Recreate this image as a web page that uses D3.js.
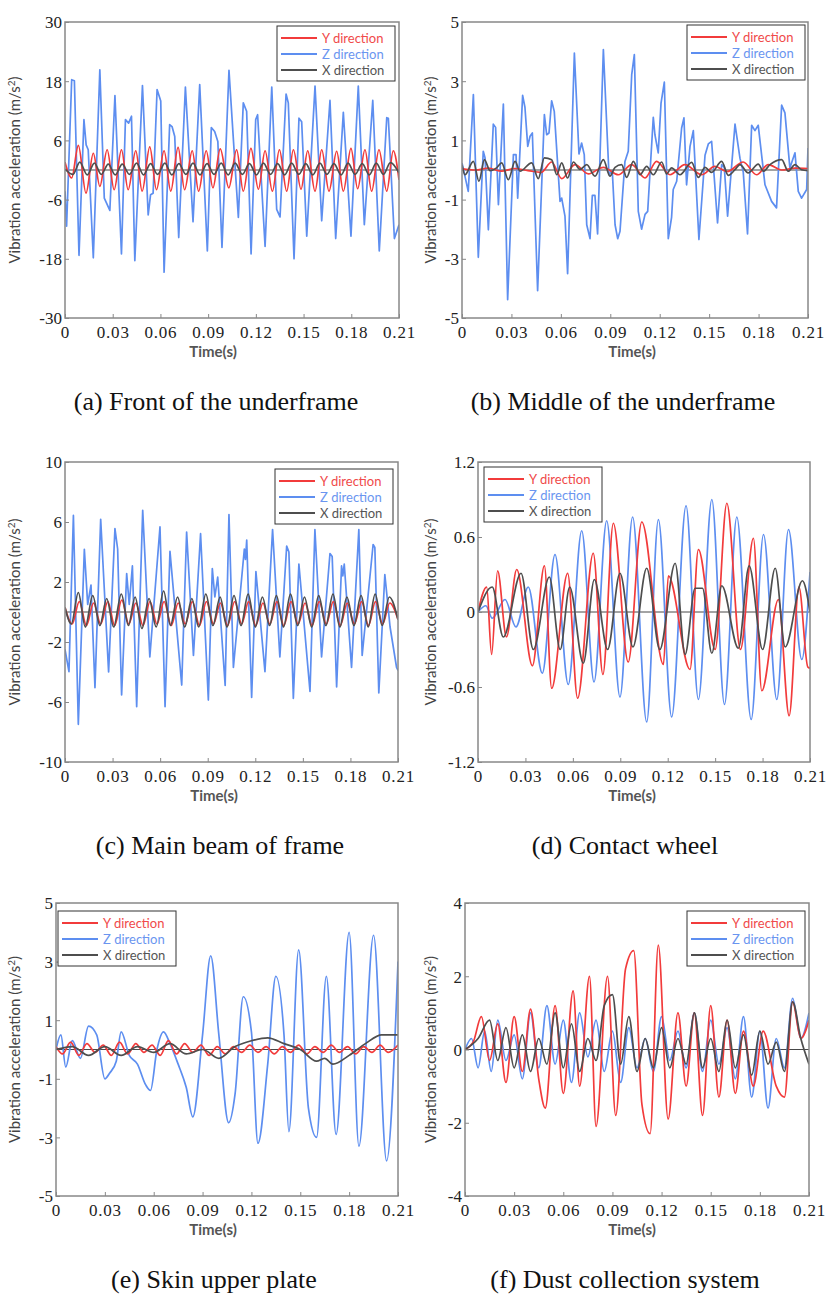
<!DOCTYPE html>
<html>
<head>
<meta charset="utf-8">
<script src="https://cdnjs.cloudflare.com/ajax/libs/d3/7.8.5/d3.min.js"></script>
<style>body{margin:0;background:#fff}</style>
</head>
<body>
<div id="chart"></div>
<script>
// time ticks shared by every panel
var timeTicks = [0, 0.03, 0.06, 0.09, 0.12, 0.15, 0.18, 0.21];
var seriesNames = ["Y direction", "Z direction", "X direction"];

// (a) Front of the underframe, [t, value]
var aTicks = [30, 18, 6, -6, -18, -30];
var aZ = [[0,-4.3],[0.001,-11.4],[0.0042,18.3],[0.0059,18.1],[0.0088,-17.3],[0.0119,10.2],[0.0133,5.1],[0.0146,4.1],[0.0178,-17.8],[0.0219,20.3],[0.0247,-5.7],[0.0282,-8.2],[0.0314,15.1],[0.0355,-17.0],[0.038,10.2],[0.040,9.5],[0.0418,10.9],[0.0439,-18.4],[0.0487,17.1],[0.0523,-9.1],[0.0538,-5.0],[0.0554,-4.7],[0.0579,16.3],[0.0602,14.0],[0.0623,-20.7],[0.0658,9.2],[0.0673,8.8],[0.069,6.8],[0.0715,-13.7],[0.0757,16.8],[0.0805,-10.5],[0.0847,17.3],[0.0895,-16.4],[0.092,8.6],[0.0941,7.8],[0.0961,5.8],[0.0987,-15.7],[0.1031,20.2],[0.109,-9.6],[0.1121,13.6],[0.1142,11.9],[0.117,-17.0],[0.1199,10.2],[0.1211,11.2],[0.1258,-15.5],[0.13,16.8],[0.1331,-8.0],[0.1352,-9.5],[0.139,15.4],[0.1404,13.6],[0.144,-18.0],[0.1471,10.5],[0.1488,9.8],[0.152,-13.4],[0.1572,17.0],[0.1614,-10.3],[0.1666,14.1],[0.1702,-13.9],[0.175,11.7],[0.1798,-13.4],[0.1844,17.0],[0.1882,-11.1],[0.1935,14.1],[0.1976,-16.4],[0.2023,10.6],[0.2033,10.5],[0.2071,-13.9],[0.21,-11.1]];
var aY = [[0,1.6],[0.0042,-1.6],[0.0084,5.0],[0.0132,-4.7],[0.0178,3.4],[0.0219,-3.3],[0.0265,4.1],[0.0309,-4.0],[0.0355,4.1],[0.0397,-4.0],[0.0445,3.9],[0.0485,-4.3],[0.0533,4.7],[0.0575,-4.0],[0.0623,3.9],[0.0665,-4.3],[0.0711,4.6],[0.0752,-4.0],[0.08,3.9],[0.084,-4.3],[0.0888,3.9],[0.093,-3.6],[0.0976,4.3],[0.1030,-3.6],[0.1079,4.1],[0.1121,-4.3],[0.1169,4.4],[0.1216,-3.9],[0.1258,3.9],[0.1304,-4.3],[0.1348,4.1],[0.1394,-4.3],[0.1436,4.1],[0.1484,-3.9],[0.1526,3.9],[0.1572,-4.3],[0.1614,4.1],[0.166,-4.3],[0.1708,3.8],[0.175,-4.3],[0.1798,4.4],[0.184,-3.8],[0.1886,4.1],[0.1928,-4.3],[0.1974,4.1],[0.2023,-4.3],[0.2064,3.9],[0.21,-2.0]];
var aX = [[0,0.2],[0.005,-0.9],[0.0093,1.6],[0.014,-1.0],[0.0185,1.4],[0.0228,-0.9],[0.0272,1.2],[0.0316,-1.0],[0.036,1.2],[0.0405,-0.9],[0.045,1.4],[0.0494,-1.0],[0.0538,1.3],[0.0582,-0.9],[0.0628,1.4],[0.0672,-1.0],[0.0716,1.3],[0.076,-0.9],[0.0805,1.4],[0.0849,-1.0],[0.0893,1.3],[0.0937,-0.9],[0.0982,1.4],[0.1026,-1.0],[0.107,1.4],[0.1115,-0.9],[0.116,1.3],[0.1204,-1.0],[0.1248,1.4],[0.1292,-0.9],[0.1337,1.3],[0.1381,-1.0],[0.1425,1.4],[0.147,-0.9],[0.1514,1.3],[0.1558,-1.0],[0.1603,1.4],[0.1647,-0.9],[0.1691,1.3],[0.1736,-1.0],[0.178,1.4],[0.1824,-0.9],[0.1869,1.3],[0.1913,-1.0],[0.1957,1.4],[0.2002,-0.9],[0.2046,1.5],[0.21,-0.6]];

// (b) Middle of the underframe
var bTicks = [5, 3, 1, -1, -3, -5];
var bZ = [[0,0.24],[0.0038,-0.72],[0.0069,2.55],[0.0099,-2.95],[0.0129,0.63],[0.014,0.41],[0.016,-2.02],[0.019,1.55],[0.0204,1.44],[0.0221,-1.17],[0.0251,2.23],[0.0277,-4.38],[0.0312,0.52],[0.0328,0.52],[0.0338,-0.95],[0.0368,2.52],[0.0382,2.12],[0.0399,0.8],[0.0413,1.14],[0.0427,1.25],[0.0459,-4.08],[0.05,1.87],[0.0514,1.19],[0.0528,1.25],[0.0544,2.34],[0.056,1.98],[0.0595,-1.06],[0.0605,-0.95],[0.0625,-1.56],[0.0641,-3.5],[0.0682,3.95],[0.071,0.54],[0.0726,0.91],[0.0742,0.52],[0.0757,-1.85],[0.0777,-2.32],[0.0791,-0.86],[0.0807,-0.86],[0.0823,-2.16],[0.0858,4.07],[0.0892,-0.16],[0.0912,-0.02],[0.0929,-1.85],[0.0945,-2.32],[0.0959,-2.07],[0.0989,0.29],[0.1009,0.63],[0.103,3.22],[0.1046,3.9],[0.107,-1.4],[0.109,-2.0],[0.1111,-1.5],[0.1127,-1.4],[0.1161,1.78],[0.1171,1.19],[0.1191,0.58],[0.1208,2.26],[0.1228,2.97],[0.1252,-2.32],[0.1272,-1.6],[0.1282,-0.66],[0.1303,-0.38],[0.1333,1.42],[0.1347,1.76],[0.1363,-0.5],[0.1384,0.8],[0.1404,1.33],[0.1438,-2.35],[0.1475,0.5],[0.1495,0.88],[0.1515,0.97],[0.1551,-1.79],[0.1576,0.18],[0.1592,0.09],[0.1612,-1.56],[0.1657,1.55],[0.1687,0.4],[0.1707,-0.07],[0.1733,-2.16],[0.1758,1.51],[0.1778,1.33],[0.1798,1.51],[0.1839,-0.5],[0.1879,-1.06],[0.1909,-1.28],[0.194,2.19],[0.196,1.93],[0.199,0.07],[0.2021,0.58],[0.2041,-0.72],[0.2061,-0.95],[0.2092,-0.66],[0.21,0.74]];
var bY = [[0,0.05],[0.008,0.0],[0.016,0.06],[0.024,-0.04],[0.032,0.05],[0.04,-0.02],[0.048,-0.08],[0.0544,0.27],[0.0605,-0.29],[0.0686,0.18],[0.0767,-0.13],[0.0858,0.09],[0.0949,-0.16],[0.103,0.18],[0.1111,-0.27],[0.1181,0.29],[0.1262,-0.16],[0.1353,0.18],[0.1454,-0.16],[0.1535,0.12],[0.161,-0.05],[0.1707,0.27],[0.1788,-0.16],[0.1859,0.18],[0.194,0.0],[0.202,0.06],[0.21,0.05]];
var bX = [[0,0.18],[0.0018,-0.16],[0.0069,0.29],[0.0103,-0.38],[0.0136,0.35],[0.017,-0.02],[0.021,0.07],[0.0241,0.24],[0.0281,-0.33],[0.0322,0.29],[0.0352,-0.04],[0.0423,0.24],[0.0463,-0.29],[0.05,0.41],[0.0544,0.35],[0.0575,-0.16],[0.0605,0.24],[0.0641,-0.27],[0.0676,0.27],[0.0716,0.02],[0.0757,0.18],[0.0807,-0.21],[0.0858,0.35],[0.0898,-0.21],[0.0929,0.09],[0.0969,0.18],[0.0999,-0.25],[0.104,0.29],[0.108,-0.16],[0.1121,0.12],[0.1161,-0.16],[0.1212,0.27],[0.1242,-0.13],[0.1272,0.07],[0.1323,-0.16],[0.1394,0.26],[0.1434,-0.25],[0.1475,0.09],[0.1515,-0.08],[0.1576,0.29],[0.1616,-0.18],[0.1657,0.01],[0.1687,0.18],[0.1737,-0.1],[0.1798,0.2],[0.1829,-0.04],[0.1869,0.18],[0.194,0.35],[0.198,-0.04],[0.2021,0.18],[0.2061,0.01],[0.21,-0.02]];

// (c) Main beam of frame
var cTicks = [10, 6, 2, -2, -6, -10];
var cZ = [[0,-2.5],[0.0025,-3.98],[0.0053,6.44],[0.0084,-7.49],[0.0122,4.18],[0.0143,0.5],[0.0164,1.8],[0.0189,-5.04],[0.0225,6.18],[0.0275,-4.0],[0.0315,5.56],[0.0332,4.2],[0.0357,-5.53],[0.0389,2.56],[0.0405,0.5],[0.0425,3.07],[0.0452,-6.31],[0.049,6.78],[0.0535,-3.0],[0.0599,5.67],[0.0631,-6.31],[0.0662,4.04],[0.0736,-4.87],[0.0767,5.33],[0.081,-2.9],[0.0855,5.22],[0.0904,-5.87],[0.0929,2.89],[0.0945,1.0],[0.0963,2.33],[0.101,-4.9],[0.1034,6.5],[0.1062,-3.7],[0.1131,4.2],[0.1138,3.5],[0.1146,4.8],[0.1177,-5.7],[0.1204,2.7],[0.1261,-3.98],[0.1309,5.5],[0.1355,-3.0],[0.1398,4.4],[0.1412,4.0],[0.144,-5.76],[0.1475,3.2],[0.1545,-5.3],[0.1576,5.5],[0.1618,-3.0],[0.1671,3.9],[0.1685,3.7],[0.1713,-5.0],[0.1744,3.07],[0.1752,2.4],[0.1761,3.2],[0.1807,-3.7],[0.1853,5.5],[0.1874,-2.9],[0.1943,4.5],[0.1954,4.3],[0.1979,-5.4],[0.2017,2.5],[0.205,-1.0],[0.2091,-3.7],[0.21,-3.9]];
var cY = [[0,0.3],[0.0045,-0.8],[0.009,0.7],[0.0135,-0.9],[0.018,0.6],[0.0225,-0.8],[0.027,0.7],[0.0313,-0.9],[0.0358,0.8],[0.0402,-0.8],[0.0447,0.6],[0.0492,-0.9],[0.0536,0.7],[0.058,-0.8],[0.0625,0.7],[0.067,-0.9],[0.0714,0.6],[0.0758,-0.8],[0.0803,0.7],[0.0848,-0.9],[0.0892,0.7],[0.0936,-0.8],[0.098,0.6],[0.1025,-0.9],[0.107,0.7],[0.1114,-0.8],[0.1158,0.7],[0.1203,-0.9],[0.1248,0.6],[0.1292,-0.8],[0.1336,0.7],[0.138,-0.9],[0.1425,0.7],[0.147,-0.8],[0.1514,0.6],[0.1558,-0.9],[0.1603,0.7],[0.1648,-0.8],[0.1692,0.7],[0.1736,-0.9],[0.178,0.6],[0.1825,-0.8],[0.187,0.7],[0.1914,-0.9],[0.1958,0.7],[0.2003,-0.8],[0.2048,0.6],[0.21,-0.5]];
var cX = [[0,0.3],[0.004,-0.8],[0.0084,1.3],[0.0128,-1.0],[0.0175,1.1],[0.022,-0.9],[0.0263,0.9],[0.0307,-1.0],[0.0355,1.2],[0.04,-0.9],[0.0442,1.0],[0.0485,-1.1],[0.053,0.9],[0.0575,-1.0],[0.0622,1.4],[0.0665,-0.9],[0.071,1.0],[0.0755,-1.0],[0.08,0.9],[0.0843,-1.0],[0.0888,1.2],[0.0933,-0.9],[0.0978,1.0],[0.1022,-1.0],[0.1066,1.1],[0.111,-0.9],[0.1155,1.2],[0.12,-1.0],[0.1245,1.0],[0.129,-0.9],[0.1333,1.1],[0.1378,-1.0],[0.1422,1.2],[0.1467,-0.9],[0.151,1.0],[0.1556,-1.0],[0.16,1.1],[0.1645,-0.9],[0.169,1.2],[0.1733,-1.0],[0.1778,1.0],[0.1822,-0.9],[0.1867,1.1],[0.1912,-1.0],[0.1956,1.2],[0.2,-0.9],[0.2045,1.0],[0.21,-0.5]];

// (d) Contact wheel
var dTicks = [1.2, 0.6, 0, -0.6, -1.2];
var dZ = [[0,0],[0.005,0.05],[0.009,-0.05],[0.0171,0.1],[0.024,-0.12],[0.0318,0.2],[0.0407,-0.49],[0.0487,0.46],[0.0571,-0.58],[0.0656,0.65],[0.0734,-0.56],[0.0814,0.73],[0.0898,-0.68],[0.0978,0.76],[0.1067,-0.88],[0.1141,0.74],[0.1225,-0.84],[0.1316,0.85],[0.1394,-0.70],[0.1479,0.90],[0.1559,-0.74],[0.1637,0.76],[0.1728,-0.86],[0.1806,0.62],[0.189,-0.70],[0.1964,0.66],[0.2048,-0.38],[0.21,0.32]];
var dY = [[0,0],[0.0055,0.2],[0.0086,-0.34],[0.0124,0.33],[0.018,-0.2],[0.0245,0.34],[0.0344,-0.43],[0.042,0.37],[0.0466,-0.61],[0.0567,0.31],[0.063,-0.69],[0.0729,0.47],[0.079,-0.5],[0.0856,0.71],[0.095,-0.4],[0.1036,0.72],[0.1173,-0.42],[0.1204,0.29],[0.1341,-0.46],[0.1394,0.5],[0.15,-0.3],[0.1574,0.87],[0.166,-0.3],[0.1742,0.59],[0.1795,-0.63],[0.19,0.1],[0.1968,-0.83],[0.203,0.2],[0.2086,-0.44],[0.21,-0.45]];
var dX = [[0,0],[0.009,0.2],[0.016,-0.2],[0.0272,0.31],[0.035,-0.3],[0.0451,0.28],[0.052,-0.3],[0.058,0.2],[0.0666,-0.41],[0.0736,0.26],[0.082,-0.3],[0.0898,0.31],[0.098,-0.28],[0.1067,0.35],[0.115,-0.3],[0.1247,0.39],[0.131,-0.34],[0.1373,0.19],[0.142,0.19],[0.1479,-0.33],[0.1542,0.21],[0.1647,-0.29],[0.1715,0.37],[0.18,-0.3],[0.188,0.35],[0.1943,-0.28],[0.2052,0.25],[0.21,0.0]];

// (e) Skin upper plate
var eTicks = [5, 3, 1, -1, -3, -5];
var eZ = [[0,0],[0.003,0.5],[0.006,-0.6],[0.01,0.3],[0.015,-0.3],[0.02,0.8],[0.025,0.5],[0.03,-1.0],[0.033,-0.8],[0.037,-0.4],[0.04,0.6],[0.045,-0.2],[0.05,-0.5],[0.055,-1.2],[0.058,-1.4],[0.062,0.0],[0.066,0.6],[0.07,0.2],[0.075,-0.5],[0.08,-1.3],[0.084,-2.3],[0.09,0.5],[0.095,3.2],[0.1,0.5],[0.106,-2.5],[0.11,-1.5],[0.115,1.8],[0.12,0.6],[0.124,-3.2],[0.13,-0.5],[0.135,2.5],[0.14,0.5],[0.143,-2.8],[0.149,3.4],[0.155,-2.0],[0.16,-3.0],[0.166,2.5],[0.172,-2.9],[0.18,4.0],[0.186,-3.3],[0.195,3.9],[0.203,-3.8],[0.21,3.0]];
var eY = [[0,0.1],[0.004,-0.15],[0.009,0.25],[0.014,-0.2],[0.019,0.2],[0.024,-0.1],[0.029,0.15],[0.034,-0.2],[0.039,0.25],[0.044,-0.15],[0.049,0.2],[0.054,-0.1],[0.059,0.15],[0.064,-0.2],[0.069,0.3],[0.074,-0.15],[0.079,0.2],[0.084,-0.1],[0.089,0.15],[0.094,-0.2],[0.099,0.1],[0.104,-0.15],[0.109,0.1],[0.114,-0.1],[0.119,0.15],[0.124,-0.1],[0.129,0.1],[0.134,-0.15],[0.139,0.1],[0.144,-0.1],[0.149,0.15],[0.154,-0.15],[0.159,0.1],[0.164,-0.1],[0.169,0.15],[0.174,-0.1],[0.179,0.1],[0.184,-0.15],[0.189,0.1],[0.194,-0.1],[0.199,0.15],[0.204,-0.1],[0.21,0.15]];
var eX = [[0,0],[0.01,0.1],[0.02,-0.2],[0.03,0.1],[0.04,-0.2],[0.05,0.1],[0.06,-0.1],[0.07,0.2],[0.08,-0.15],[0.09,0.0],[0.1,-0.3],[0.11,0.1],[0.12,0.3],[0.13,0.4],[0.14,0.2],[0.15,0.0],[0.16,-0.4],[0.165,-0.3],[0.17,-0.5],[0.18,-0.2],[0.19,0.2],[0.2,0.5],[0.21,0.5]];

// (f) Dust collection system
var fTicks = [4, 2, 0, -2, -4];
var fZ = [[0,0],[0.004,0.3],[0.008,-0.5],[0.012,0.5],[0.016,-0.6],[0.02,0.8],[0.025,-0.3],[0.03,0.4],[0.035,-0.8],[0.04,1.0],[0.045,-0.5],[0.05,1.2],[0.055,-0.4],[0.06,0.8],[0.065,-0.9],[0.07,1.0],[0.075,-0.2],[0.08,0.8],[0.085,-0.6],[0.09,0.5],[0.095,-0.9],[0.1,0.6],[0.105,-0.5],[0.11,0.3],[0.115,-0.6],[0.12,0.9],[0.125,-0.3],[0.13,0.5],[0.135,-0.5],[0.14,1.0],[0.145,-0.6],[0.15,0.8],[0.155,-0.4],[0.16,0.6],[0.165,-0.8],[0.17,0.9],[0.175,-1.3],[0.18,0.5],[0.185,-1.6],[0.19,0.3],[0.195,-0.5],[0.2,1.4],[0.205,0.3],[0.21,1.0]];
var fY = [[0,0],[0.005,0.2],[0.01,0.9],[0.015,-0.3],[0.02,0.7],[0.025,-0.9],[0.03,0.9],[0.035,-0.6],[0.04,1.1],[0.045,-0.8],[0.049,-1.6],[0.055,1.2],[0.06,-1.2],[0.066,1.6],[0.07,-1.0],[0.076,2.0],[0.08,-2.1],[0.087,2.0],[0.092,-1.8],[0.098,2.2],[0.103,2.7],[0.108,-1.5],[0.113,-2.3],[0.118,2.85],[0.124,-1.9],[0.13,1.0],[0.135,-1.0],[0.14,1.0],[0.145,-1.8],[0.15,1.2],[0.155,-1.3],[0.16,0.8],[0.165,-1.2],[0.17,0.5],[0.176,-1.0],[0.182,0.5],[0.19,-1.0],[0.195,-1.3],[0.2,1.3],[0.205,0.3],[0.21,0.8]];
var fX = [[0,0],[0.008,0.3],[0.015,0.8],[0.02,-0.3],[0.025,0.6],[0.03,-0.5],[0.035,0.4],[0.04,-0.6],[0.045,0.3],[0.05,-0.4],[0.055,1.0],[0.06,-0.5],[0.065,0.7],[0.07,-0.6],[0.075,0.3],[0.08,-0.3],[0.085,1.2],[0.09,1.5],[0.095,-0.4],[0.1,0.9],[0.105,-0.6],[0.11,0.3],[0.115,-0.5],[0.12,0.6],[0.125,-0.5],[0.13,0.3],[0.135,-0.4],[0.14,1.0],[0.145,-0.5],[0.15,0.3],[0.155,-0.6],[0.16,0.8],[0.165,-0.5],[0.17,0.4],[0.175,-0.7],[0.18,0.5],[0.185,-0.4],[0.19,0.2],[0.195,-0.6],[0.2,1.3],[0.205,0.3],[0.21,-0.4]];

var colors = {Y: "#f23b3b", Z: "#5d8ef0", X: "#4e4e4e"};
var textColors = {Y: "#f04a4a", Z: "#6a95f0", X: "#555555"};

// panel layout: plot box in pixels, legend corner, caption; spiky = Z drawn straight
var panels = [
  {left: 65, right: 399, top: 22, bottom: 318, ticks: aTicks, Y: aY, Z: aZ, X: aX, spiky: true, legend: [277, 26], titleX: 20, timeX: 213, capX: 216, caption: "(a) Front of the underframe"},
  {left: 462, right: 808, top: 22, bottom: 318, ticks: bTicks, Y: bY, Z: bZ, X: bX, spiky: true, legend: [687, 25], titleX: 436, timeX: 632, capX: 623, caption: "(b) Middle of the underframe"},
  {left: 65, right: 398, top: 462, bottom: 762, ticks: cTicks, Y: cY, Z: cZ, X: cX, spiky: true, legend: [275, 469], titleX: 20, timeX: 214, capX: 220, caption: "(c) Main beam of frame"},
  {left: 478, right: 810, top: 462, bottom: 762, ticks: dTicks, Y: dY, Z: dZ, X: dX, spiky: false, legend: [484, 467], titleX: 436, timeX: 632, capX: 625, caption: "(d) Contact wheel"},
  {left: 56, right: 398, top: 903, bottom: 1196, ticks: eTicks, Y: eY, Z: eZ, X: eX, spiky: false, legend: [58, 911], titleX: 20, timeX: 213, capX: 214, caption: "(e) Skin upper plate"},
  {left: 465, right: 809, top: 903, bottom: 1196, ticks: fTicks, Y: fY, Z: fZ, X: fX, spiky: false, legend: [687, 911], titleX: 436, timeX: 632, capX: 625, caption: "(f) Dust collection system"}
];

var svg = d3.select("#chart").append("svg")
    .attr("width", 826)
    .attr("height", 1295);
svg.append("rect").attr("width", 826).attr("height", 1295).attr("fill", "#fff");

var serif = "'Liberation Serif', 'Times New Roman', serif";
var sans = "Lato, 'Open Sans', sans-serif";

panels.forEach(function(p, i) {
  var yMax = d3.max(p.ticks), yMin = d3.min(p.ticks);
  var x = d3.scaleLinear().domain([0, 0.21]).range([p.left, p.right]);
  var y = d3.scaleLinear().domain([yMin, yMax]).range([p.bottom, p.top]);
  var g = svg.append("g");

  g.append("clipPath").attr("id", "clip" + i)
    .append("rect")
      .attr("x", p.left).attr("y", p.top)
      .attr("width", p.right - p.left).attr("height", p.bottom - p.top);

  // zero line
  g.append("line")
    .attr("x1", p.left).attr("x2", p.right)
    .attr("y1", y(0)).attr("y2", y(0))
    .attr("stroke", "#333").attr("stroke-width", 0.9);

  var plot = g.append("g").attr("clip-path", "url(#clip" + i + ")");
  ["Z", "Y", "X"].forEach(function(k) {
    var curve = (k === "Z" && p.spiky) ? d3.curveLinear : d3.curveMonotoneX;
    var line = d3.line()
      .curve(curve)
      .x(function(d) { return x(d[0]); })
      .y(function(d) { return y(d[1]); });
    plot.append("path")
      .datum(p[k])
      .attr("d", line)
      .attr("fill", "none")
      .attr("stroke", colors[k])
      .attr("stroke-width", 1.7)
      .attr("stroke-linejoin", "round");
  });

  // axes: full frame, ticks inward
  g.append("g")
    .attr("transform", "translate(0," + p.bottom + ")")
    .call(d3.axisBottom(x).tickValues(timeTicks).tickSizeInner(-4).tickSizeOuter(0)
      .tickFormat(function(d) { return d === 0 ? "0" : d3.format(".2f")(d); }))
    .call(function(a) {
      a.select(".domain").remove();
      a.selectAll("line").attr("stroke", "#888");
      a.selectAll("text").attr("dy", null).attr("y", 20)
        .style("font-family", serif).style("font-size", "17px")
        .style("letter-spacing", "0.8px").attr("fill", "#222");
    });
  g.append("g")
    .attr("transform", "translate(" + p.left + ",0)")
    .call(d3.axisLeft(y).tickValues(p.ticks).tickSizeInner(-4).tickSizeOuter(0)
      .tickFormat(function(d) { return String(d); }))
    .call(function(a) {
      a.select(".domain").remove();
      a.selectAll("line").attr("stroke", "#888");
      a.selectAll("text").attr("x", -3).attr("dy", "0.35em")
        .style("font-family", serif).style("font-size", "17px").attr("fill", "#222");
    });
  g.append("rect")
    .attr("x", p.left).attr("y", p.top)
    .attr("width", p.right - p.left).attr("height", p.bottom - p.top)
    .attr("fill", "none").attr("stroke", "#888").attr("stroke-width", 1.5);

  // legend
  var lg = g.append("g").attr("transform", "translate(" + p.legend[0] + "," + p.legend[1] + ")");
  lg.append("rect").attr("width", 118).attr("height", 55)
    .attr("fill", "#fff").attr("stroke", "#333").attr("stroke-width", 1);
  ["Y", "Z", "X"].forEach(function(k, j) {
    var yy = 12 + j * 16;
    lg.append("line").attr("x1", 4).attr("x2", 40).attr("y1", yy).attr("y2", yy)
      .attr("stroke", colors[k]).attr("stroke-width", 2);
    lg.append("text").attr("x", 45).attr("y", yy).attr("dy", "0.35em")
      .style("font-family", sans).style("font-size", "13px")
      .attr("fill", textColors[k]).text(seriesNames[j]);
  });

  // axis titles
  var tt = g.append("text")
    .attr("transform", "translate(" + p.titleX + "," + ((p.top + p.bottom) / 2) + ") rotate(-90)")
    .attr("text-anchor", "middle")
    .style("font-family", sans).style("font-size", "15px")
    .attr("fill", "#444");
  tt.append("tspan").text("Vibration acceleration (m/s");
  tt.append("tspan").attr("dy", -5).style("font-size", "10px").text("2");
  tt.append("tspan").attr("dy", 5).text(")");

  g.append("text")
    .attr("x", p.timeX).attr("y", p.bottom + 39)
    .attr("text-anchor", "middle")
    .style("font-family", sans).style("font-size", "15px").style("font-weight", "bold")
    .attr("fill", "#555").text("Time(s)");

  g.append("text")
    .attr("x", p.capX).attr("y", p.bottom + 92)
    .attr("text-anchor", "middle")
    .style("font-family", serif).style("font-size", "26px")
    .attr("fill", "#111").text(p.caption);
});
</script>
</body>
</html>
